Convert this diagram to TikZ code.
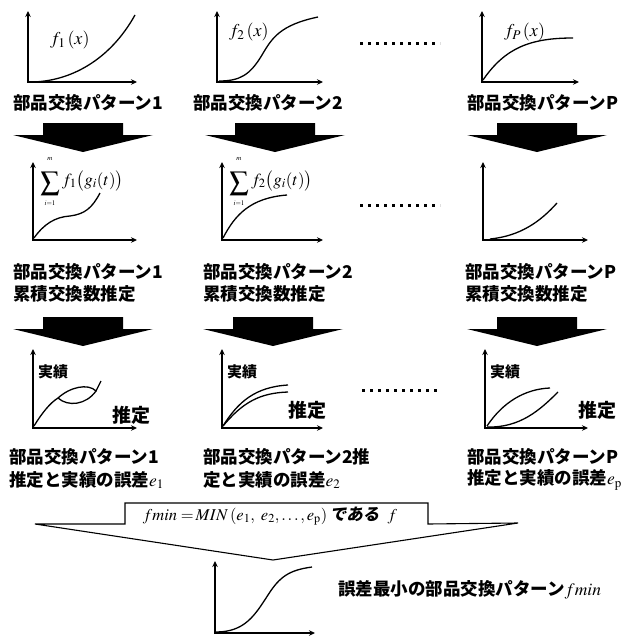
\documentclass[tikz,border=0pt]{standalone}
\usepackage{mathptmx}
\usepackage[no-math]{fontspec}
\setmainfont{Liberation Serif}
\newfontfamily\jp{Noto Sans CJK JP}
\newfontfamily\jpsl{Noto Sans CJK JP}[FakeSlant=0.2]
\usetikzlibrary{arrows.meta}
\tikzset{
  ax/.style={line width=1.5pt,{Stealth[length=6pt,width=5.5pt]}-{Stealth[length=6pt,width=5.5pt]}},
  crv/.style={line width=1.3pt},
  jlbl/.style={font=\jp\bfseries\fontsize{17.5}{20}\selectfont, anchor=west, inner sep=0pt},
  glbl/.style={font=\jp\bfseries\fontsize{15}{18}\selectfont, anchor=west, inner sep=0pt},
  elbl/.style={font=\jp\bfseries\fontsize{19}{20}\selectfont, anchor=west, inner sep=0pt},
  mlbl/.style={font=\fontsize{18}{20}\selectfont, anchor=west, inner sep=0pt},
  sumsig/.style={font=\fontsize{19}{19}\selectfont, inner sep=0pt},
  sumlim/.style={font=\fontsize{7}{8}\selectfont, inner sep=0pt},
  dotrow/.style={line width=3pt, dash pattern=on 3pt off 5pt},
}
\newcommand\myaxes[4]{\draw[ax] (#1,#4) -- (#1,#2) -- (#3,#2);}
\newcommand\blockarrow[2]{\fill[black] ({#1-40},{#2}) -- ({#1+40},{#2}) -- ({#1+40},{#2+12}) -- ({#1+70},{#2+12}) -- ({#1},{#2+29}) -- ({#1-70},{#2+12}) -- ({#1-40},{#2+12}) -- cycle;}
\begin{document}
\begin{tikzpicture}[x=1pt,y=-1pt]
\useasboundingbox[fill=white] (0,0) rectangle (630,637);
% ---------- row 1 ----------
\myaxes{28}{82}{137}{11}
\draw[crv] (30,82) .. controls (70,82) and (110,60) .. (135,15);
\node[mlbl] (l1) at (50,40) {$f_1\,(x)$};
\myaxes{217}{82}{323}{11}
\draw[crv] (219,81) .. controls (240,81) and (250,75) .. (262,55) .. controls (272,38) and (280,25) .. (318,17);
\node[mlbl] (l2) at (229,32) {$f_2\,(x)$};
\draw[dotrow] (360,43) -- (440,43);
\myaxes{482}{82}{579}{11}
\draw[crv] (483,80) .. controls (505,48) and (530,38) .. (573,38);
\node[mlbl] (lp) at (504,32) {$f_P\,(x)$};
\node[jlbl] (t11) at (13,103) {部品交換パターン1};
\node[jlbl] (t12) at (193,103) {部品交換パターン2};
\node[jlbl] (t1p) at (467,103) {部品交換パターンP};
\blockarrow{83}{123}
\blockarrow{275}{123}
\blockarrow{537}{123}
% ---------- row 2 ----------
\myaxes{33}{240}{137}{162}
\draw[crv] (34,238) .. controls (44,224) and (55,217) .. (70,216) .. controls (85,214) and (92,208) .. (100,193);
\node[sumsig] (g1) at (50,184) {$\displaystyle\sum$};
\node[sumlim] (g1m) at (50,159) {$m$};
\node[sumlim] (g1i) at (50,203) {$i{=}1$};
\node[mlbl,font=\fontsize{17}{20}\selectfont] (s1) at (62,181) {$f_1\bigl(g_i(t)\bigr)$};
\myaxes{222}{240}{323}{162}
\draw[crv] (223,238) .. controls (235,215) and (250,198) .. (287,195);
\node[sumsig] (g2) at (239,184) {$\displaystyle\sum$};
\node[sumlim] (g2m) at (239,159) {$m$};
\node[sumlim] (g2i) at (239,203) {$i{=}1$};
\node[mlbl,font=\fontsize{17}{20}\selectfont] (s2) at (251,181) {$f_2\bigl(g_i(t)\bigr)$};
\draw[dotrow] (360,205) -- (440,205);
\myaxes{483}{240}{588}{162}
\draw[crv] (490,239) .. controls (520,236) and (540,222) .. (557,203);
\node[jlbl] (t21a) at (13,272) {部品交換パターン1};
\node[jlbl] (t21b) at (13,294) {累積交換数推定};
\node[jlbl] (t22a) at (203,272) {部品交換パターン2};
\node[jlbl] (t22b) at (203,294) {累積交換数推定};
\node[jlbl] (t2pa) at (465,272) {部品交換パターンP};
\node[jlbl] (t2pb) at (465,294) {累積交換数推定};
\blockarrow{83}{317}
\blockarrow{273}{317}
\blockarrow{537}{317}
% ---------- row 3 ----------
\myaxes{33}{428}{137}{349}
\draw[crv] (34,426) .. controls (42,413) and (50,403) .. (58,398) .. controls (70,387) and (88,383) .. (96,391) -- (101,381);
\draw[crv] (58,398) .. controls (68,407) and (86,405) .. (96,391);
\node[glbl] (a1) at (38,372) {実績};
\node[elbl] (b1) at (112,415) {推定};
\myaxes{222}{428}{323}{349}
\draw[crv] (223,426) .. controls (238,402) and (255,387) .. (288,385);
\draw[crv] (223,426) .. controls (243,402) and (260,393) .. (288,392);
\node[glbl] (a2) at (227,372) {実績};
\node[elbl] (b2) at (288,410) {推定};
\draw[dotrow] (362,390) -- (440,390);
\myaxes{485}{428}{588}{349}
\draw[crv] (487,426) .. controls (503,402) and (525,389) .. (550,388);
\draw[crv] (487,427) .. controls (520,428) and (540,410) .. (558,392);
\node[glbl] (ap) at (490,372) {実績};
\node[elbl] (bp) at (578,410) {推定};
\node[jlbl] (t31a) at (9,457) {部品交換パターン1};
\node[jlbl] (t31b) at (9,480) {推定と実績の誤差$e_1$};
\node[jlbl] (t32a) at (203,457) {部品交換パターン2推};
\node[jlbl] (t32b) at (203,480) {定と実績の誤差$e_2$};
\node[jlbl] (t3pa) at (467,457) {部品交換パターンP};
\node[jlbl] (t3pb) at (467,480) {推定と実績の誤差$e_{\mathrm{p}}$};
% ---------- bottom ----------
\draw[line width=1.1pt, line join=miter] (125,503) -- (428,503) -- (428,524) -- (518,523) -- (273,560) -- (35,524) -- (125,524) -- cycle;
\node[font=\fontsize{16.5}{18}\selectfont, inner sep=0pt] (fm) at (270,516) {$fmin =\!MIN\,(e_1,\ e_2,\dots,e_{\mathrm{p}})$\,{\jpsl\bfseries である}\ \ $f$};
\myaxes{215}{633}{315}{561}
\draw[crv] (216,632) .. controls (245,632) and (255,615) .. (268,595) .. controls (280,576) and (290,570) .. (312,567);
\node[jlbl] (res) at (338,590) {誤差最小の部品交換パターン$fmin$};
\end{tikzpicture}
\end{document}
